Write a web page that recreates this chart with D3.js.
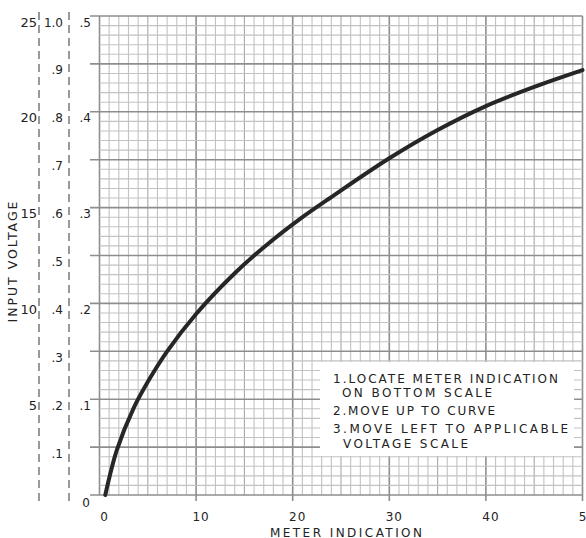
<!DOCTYPE html>
<html>
<head>
<meta charset="utf-8">
<script src="https://cdn.jsdelivr.net/npm/d3@7"></script>
<style>
  html, body { margin: 0; padding: 0; background: #fff; }
  svg { display: block; }
  text { font-family: "DejaVu Sans", "Liberation Sans", sans-serif; fill: #222; }
</style>
</head>
<body>
<svg id="chart" width="586" height="538"></svg>
<script>
// ---- data ----
const meterIndication = [0.6, 1.8, 3.5, 5.2, 7, 10, 14, 17.3, 20.8, 24, 30, 35, 40, 45, 50];
const inputVoltage    = [0, 0.094, 0.180, 0.243, 0.300, 0.378, 0.463, 0.522, 0.577, 0.622, 0.703, 0.762, 0.812, 0.852, 0.887]; // on the 0–1.0 scale
const xTickValues = [0, 10, 20, 30, 40, 50];
const scale25Labels = ["5", "10", "15", "20", "25"];
const scale25Values = [5, 10, 15, 20, 25];
const scale1Labels = [".1", ".2", ".3", ".4", ".5", ".6", ".7", ".8", ".9", "1.0"];
const scale1Values = [0.1, 0.2, 0.3, 0.4, 0.5, 0.6, 0.7, 0.8, 0.9, 1.0];
const scaleHalfLabels = [".1", ".2", ".3", ".4", ".5"];
const scaleHalfValues = [0.1, 0.2, 0.3, 0.4, 0.5];
const instructions = [
  "1.LOCATE METER INDICATION",
  "ON BOTTOM SCALE",
  "2.MOVE UP TO CURVE",
  "3.MOVE LEFT TO APPLICABLE",
  "VOLTAGE SCALE"
];

// ---- scales ----
const svg = d3.select("#chart");
const x = d3.scaleLinear().domain([0, 50]).range([99.5, 582.5]);
const y = d3.scaleLinear().domain([0, 1]).range([495, 16]);     // 1.0 scale
const y25 = d3.scaleLinear().domain([0, 25]).range([495, 16]);
const yHalf = d3.scaleLinear().domain([0, 0.5]).range([495, 16]);

// ---- grid ----
const grid = svg.append("g");
const vx = d3.range(0, 51, 1);
grid.selectAll("line.v").data(vx).join("line")
  .attr("x1", d => x(d)).attr("x2", d => x(d))
  .attr("y1", y(1)).attr("y2", y(0))
  .attr("stroke", d => d % 10 === 0 ? "#8e8e8e" : (d % 5 === 0 ? "#a8a8a8" : "#c2c2c2"))
  .attr("stroke-width", d => d % 10 === 0 ? 1.6 : 1.1);
const hy = d3.range(0, 51, 1).map(i => i / 50);
grid.selectAll("line.h").data(hy).join("line")
  .attr("x1", (d, i) => i % 5 === 0 ? 90 : x(0)).attr("x2", x(50))
  .attr("y1", d => y(d)).attr("y2", d => y(d))
  .attr("stroke", (d, i) => i % 5 === 0 ? "#8e8e8e" : "#c2c2c2")
  .attr("stroke-width", (d, i) => i % 5 === 0 ? 1.6 : 1.1);

// x axis ticks below the bottom line
grid.selectAll("line.xt").data(xTickValues.slice(1)).join("line")
  .attr("x1", d => x(d)).attr("x2", d => x(d))
  .attr("y1", y(0)).attr("y2", y(0) + 6)
  .attr("stroke", "#8e8e8e").attr("stroke-width", 1.6);

// x tick labels
svg.append("g").selectAll("text").data(xTickValues).join("text")
  .attr("x", d => x(d) + 5).attr("y", 517)
  .attr("text-anchor", "middle").attr("dominant-baseline", "middle")
  .attr("font-size", 12).attr("letter-spacing", 1)
  .text(d => d);

svg.append("text").attr("x", 346).attr("y", 533)
  .attr("text-anchor", "middle").attr("dominant-baseline", "middle")
  .attr("font-size", 12).attr("textLength", 152).attr("lengthAdjust", "spacing")
  .text("METER INDICATION");

svg.append("text")
  .attr("transform", "translate(13,262) rotate(-90)")
  .attr("text-anchor", "middle").attr("dominant-baseline", "middle")
  .attr("font-size", 12.5).attr("textLength", 121).attr("lengthAdjust", "spacing")
  .text("INPUT VOLTAGE");

// dashed scale lines
[39, 69].forEach(px => {
  svg.append("line").attr("x1", px).attr("x2", px).attr("y1", 12).attr("y2", 502)
    .attr("stroke", "#6f6f6f").attr("stroke-width", 1.4).attr("stroke-dasharray", "8,5");
});

// left scale labels
svg.append("g").selectAll("text").data(scale25Values).join("text")
  .attr("x", 37).attr("y", d => y25(d) + 7)
  .attr("text-anchor", "end").attr("dominant-baseline", "middle")
  .attr("font-size", 13).text((d, i) => scale25Labels[i]);
svg.append("g").selectAll("text").data(scale1Values).join("text")
  .attr("x", 63).attr("y", d => y(d) + 7)
  .attr("text-anchor", "end").attr("dominant-baseline", "middle")
  .attr("font-size", 12).text((d, i) => scale1Labels[i]);
svg.append("g").selectAll("text").data(scaleHalfValues).join("text")
  .attr("x", 91).attr("y", d => yHalf(d) + 7)
  .attr("text-anchor", "end").attr("dominant-baseline", "middle")
  .attr("font-size", 12).text((d, i) => scaleHalfLabels[i]);
svg.append("text").attr("x", 86).attr("y", y(0) + 8)
  .attr("text-anchor", "middle").attr("dominant-baseline", "middle")
  .attr("font-size", 12).text("0");

// ---- curve ----
const pts = meterIndication.map((m, i) => [m, inputVoltage[i]]);
svg.append("path").datum(pts)
  .attr("d", d3.line().x(d => x(d[0])).y(d => y(d[1])).curve(d3.curveCatmullRom.alpha(0.5)))
  .attr("fill", "none").attr("stroke", "#262626").attr("stroke-width", 4)
  .attr("stroke-linecap", "round");

// ---- instruction box ----
svg.append("rect").attr("x", 320).attr("y", 362).attr("width", 254).attr("height", 94)
  .attr("fill", "#fff");
const lines = [
  {x: 333, y: 379, w: 225},
  {x: 342, y: 393, w: 150},
  {x: 333, y: 411, w: 162},
  {x: 333, y: 429, w: 235},
  {x: 343, y: 444, w: 125}
];
svg.append("g").selectAll("text").data(instructions).join("text")
  .attr("x", (d, i) => lines[i].x).attr("y", (d, i) => lines[i].y)
  .attr("dominant-baseline", "middle").attr("font-size", 12)
  .attr("textLength", (d, i) => lines[i].w).attr("lengthAdjust", "spacing")
  .text(d => d);
</script>
</body>
</html>
